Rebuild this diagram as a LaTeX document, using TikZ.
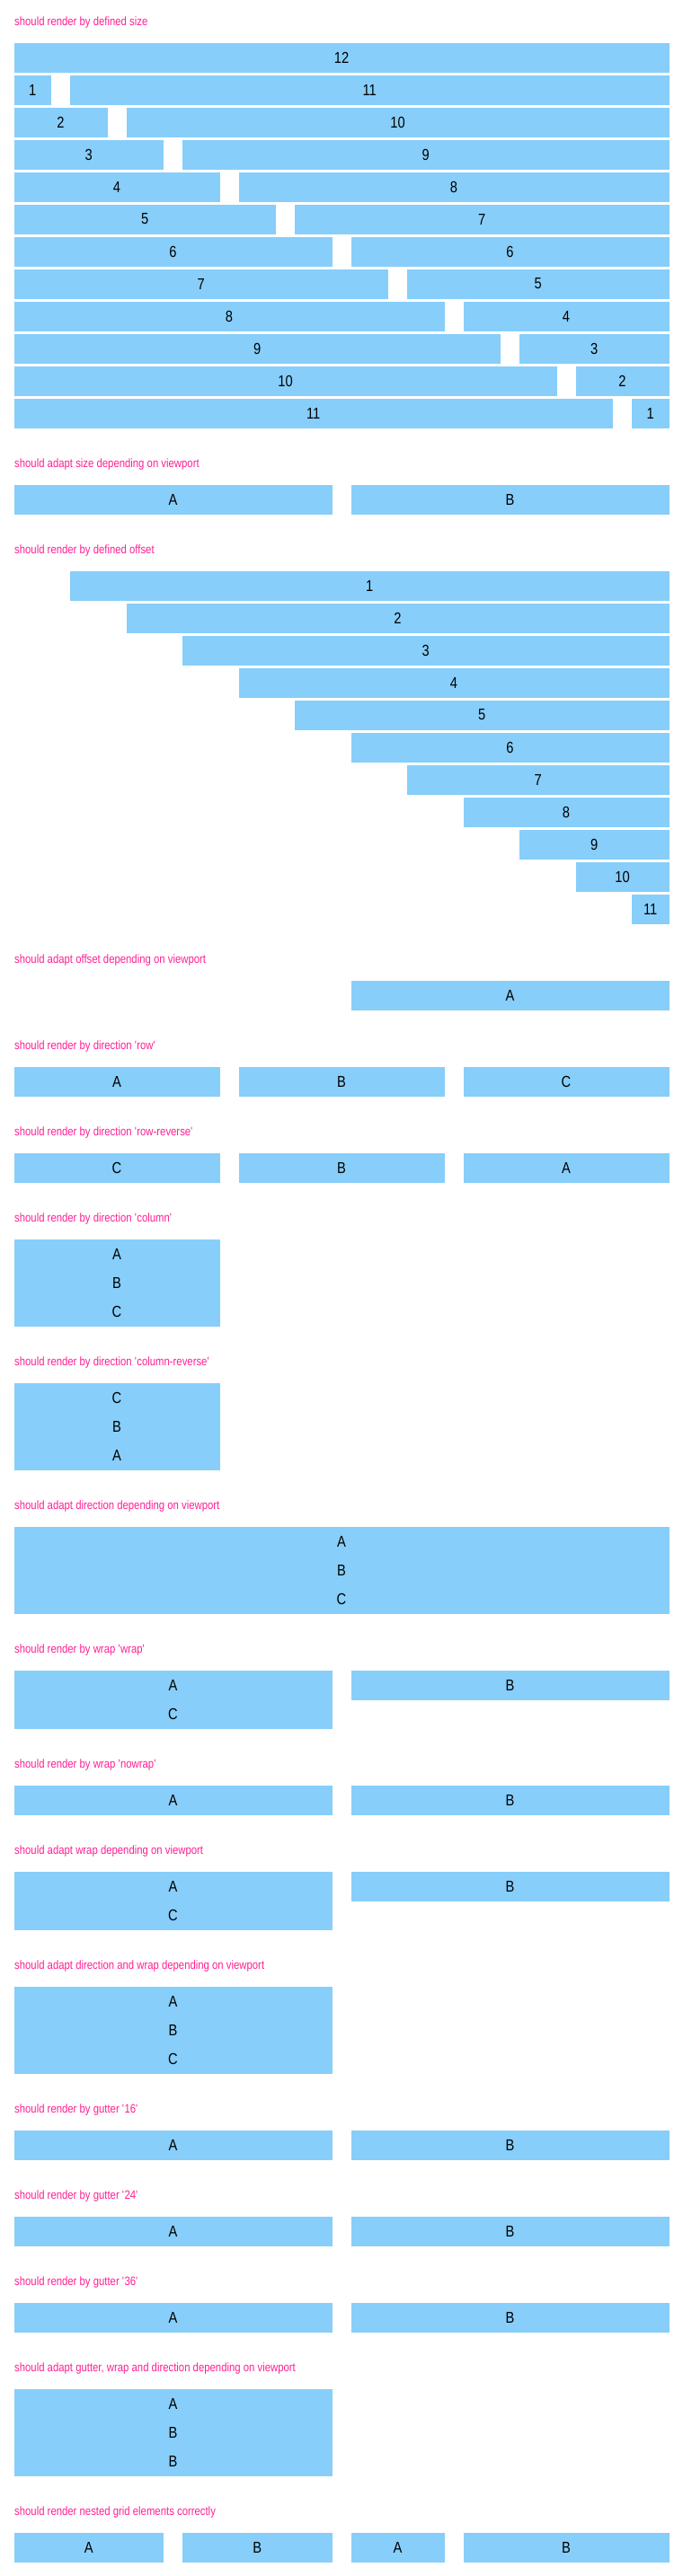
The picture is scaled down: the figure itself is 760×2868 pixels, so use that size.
\documentclass[tikz,border=0pt]{standalone}
\usepackage{fontspec}
\setmainfont{Liberation Sans}
\newfontfamily\condfont[FakeStretch=0.84]{Liberation Sans}
\usepackage{xcolor}
\usepackage{tikz}
\definecolor{cellblue}{RGB}{135, 206, 250}
\definecolor{titlepink}{RGB}{255, 30, 145}

\tikzset{
  cell/.style={anchor=north west, fill=cellblue, draw=cellblue, line width=0.3pt,
    minimum height=32, inner sep=0pt, outer sep=0pt, text=black,
    font=\condfont\fontsize{17.5}{20}\selectfont},
  caption/.style={anchor=base west, inner sep=0pt, text=titlepink,
    font=\condfont\fontsize{13.5}{16}\selectfont}
}
% one grid element: name, first column, span, top, label
\newcommand{\gridcell}[5]{\node[cell, minimum width={62.5*(#3)-22}] (#1) at ({16+62.5*(#2)}, {#4}) {#5};}

\begin{document}
\begin{tikzpicture}[x=1pt, y=-1pt]
    \useasboundingbox (0,0) rectangle (760,2868);

    % Defined size
    \node[caption] (t-size) at (16,28) {should render by defined size};
    \gridcell{size-12}{0}{12}{48}{12}
    \foreach \k in {1,...,11} {
        \gridcell{size-l\k}{0}{\k}{48+36*\k}{\k}
        \gridcell{size-r\k}{\k}{12-\k}{48+36*\k}{\the\numexpr12-\k\relax}
    }

    % Size by viewport
    \node[caption] (t-vsize) at (16,520) {should adapt size depending on viewport};
    \gridcell{vsize-a}{0}{6}{540}{A}
    \gridcell{vsize-b}{6}{6}{540}{B}

    % Defined offset
    \node[caption] (t-off) at (16,616) {should render by defined offset};
    \foreach \i in {1,...,11} {
        \gridcell{off\i}{\i}{12-\i}{636+36*(\i-1)}{\i}
    }

    % Offset by viewport
    \node[caption] (t-voff) at (16,1072) {should adapt offset depending on viewport};
    \gridcell{voff-a}{6}{6}{1092}{A}

    % Direction row / row-reverse
    \node[caption] (t-row) at (16,1168) {should render by direction {\textquotesingle}row{\textquotesingle}};
    \gridcell{row-a}{0}{4}{1188}{A}
    \gridcell{row-b}{4}{4}{1188}{B}
    \gridcell{row-c}{8}{4}{1188}{C}
    \node[caption] (t-rowrev) at (16,1264) {should render by direction {\textquotesingle}row-reverse{\textquotesingle}};
    \gridcell{rowrev-c}{0}{4}{1284}{C}
    \gridcell{rowrev-b}{4}{4}{1284}{B}
    \gridcell{rowrev-a}{8}{4}{1284}{A}

    % Direction column / column-reverse
    \node[caption] (t-col) at (16,1360) {should render by direction {\textquotesingle}column{\textquotesingle}};
    \gridcell{col-a}{0}{4}{1380}{A}
    \gridcell{col-b}{0}{4}{1412}{B}
    \gridcell{col-c}{0}{4}{1444}{C}
    \node[caption] (t-colrev) at (16,1520) {should render by direction {\textquotesingle}column-reverse{\textquotesingle}};
    \gridcell{colrev-c}{0}{4}{1540}{C}
    \gridcell{colrev-b}{0}{4}{1572}{B}
    \gridcell{colrev-a}{0}{4}{1604}{A}

    % Direction by viewport
    \node[caption] (t-vdir) at (16,1680) {should adapt direction depending on viewport};
    \gridcell{vdir-a}{0}{12}{1700}{A}
    \gridcell{vdir-b}{0}{12}{1732}{B}
    \gridcell{vdir-c}{0}{12}{1764}{C}

    % Wrap
    \node[caption] (t-wrap) at (16,1840) {should render by wrap {\textquotesingle}wrap{\textquotesingle}};
    \gridcell{wrap-a}{0}{6}{1860}{A}
    \gridcell{wrap-c}{0}{6}{1892}{C}
    \gridcell{wrap-b}{6}{6}{1860}{B}
    \node[caption] (t-nowrap) at (16,1968) {should render by wrap {\textquotesingle}nowrap{\textquotesingle}};
    \gridcell{nowrap-a}{0}{6}{1988}{A}
    \gridcell{nowrap-b}{6}{6}{1988}{B}
    \node[caption] (t-vwrap) at (16,2064) {should adapt wrap depending on viewport};
    \gridcell{vwrap-a}{0}{6}{2084}{A}
    \gridcell{vwrap-c}{0}{6}{2116}{C}
    \gridcell{vwrap-b}{6}{6}{2084}{B}

    % Direction and wrap by viewport
    \node[caption] (t-vdirwrap) at (16,2192) {should adapt direction and wrap depending on viewport};
    \gridcell{vdirwrap-a}{0}{6}{2212}{A}
    \gridcell{vdirwrap-b}{0}{6}{2244}{B}
    \gridcell{vdirwrap-c}{0}{6}{2276}{C}

    % Gutters
    \foreach \g/\y in {16/2352, 24/2448, 36/2544} {
        \node[caption] (t-gut\g) at (16,\y) {should render by gutter {\textquotesingle}\g{\textquotesingle}};
        \gridcell{gut\g-a}{0}{6}{\y+20}{A}
        \gridcell{gut\g-b}{6}{6}{\y+20}{B}
    }

    % Gutter, wrap and direction by viewport
    \node[caption] (t-vgut) at (16,2640) {should adapt gutter, wrap and direction depending on viewport};
    \gridcell{vgut-a}{0}{6}{2660}{A}
    \gridcell{vgut-b}{0}{6}{2692}{B}
    \gridcell{vgut-bb}{0}{6}{2724}{B}

    % Nested grid
    \node[caption] (t-nest) at (16,2800) {should render nested grid elements correctly};
    \gridcell{nest-a}{0}{3}{2820}{A}
    \gridcell{nest-b}{3}{3}{2820}{B}
    \gridcell{nest-ia}{6}{2}{2820}{A}
    \gridcell{nest-ib}{8}{4}{2820}{B}
\end{tikzpicture}
\end{document}
